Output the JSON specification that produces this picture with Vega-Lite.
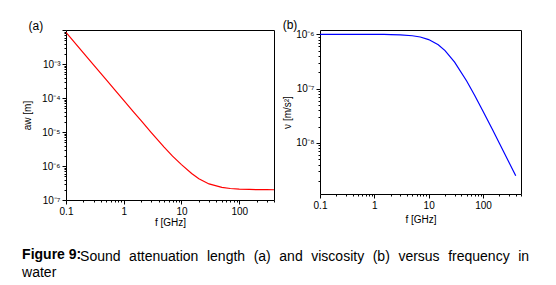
{
  "$schema": "https://vega.github.io/schema/vega-lite/v6.json",
  "background": "white",
  "padding": {"left": 22, "top": 18, "right": 5, "bottom": 5},
  "config": {
    "font": "Liberation Sans",
    "view": {"stroke": "black", "strokeWidth": 1},
    "axis": {
      "grid": false,
      "domain": false,
      "tickColor": "black",
      "labelColor": "black",
      "titleColor": "black",
      "labelFont": "Liberation Sans",
      "titleFont": "Liberation Sans",
      "labelFontSize": 10,
      "titleFontSize": 10,
      "titleFontWeight": "normal",
      "labelPadding": 2,
      "labelOverlap": false,
      "labelFlush": false
    },
    "title": {"font": "Liberation Sans", "color": "black"}
  },
  "datasets": {
    "atten": [
      {"f": 0.1, "a": 8.5e-3},
      {"f": 0.15, "a": 3.778e-3},
      {"f": 0.2, "a": 2.125e-3},
      {"f": 0.3, "a": 9.444e-4},
      {"f": 0.5, "a": 3.4e-4},
      {"f": 0.7, "a": 1.735e-4},
      {"f": 1, "a": 8.52e-5},
      {"f": 1.5, "a": 3.78e-5},
      {"f": 2, "a": 2.145e-5},
      {"f": 3, "a": 9.64e-6},
      {"f": 5, "a": 3.6e-6},
      {"f": 7, "a": 1.95e-6},
      {"f": 10, "a": 1.1e-6},
      {"f": 15, "a": 6.0e-7},
      {"f": 20, "a": 4.2e-7},
      {"f": 30, "a": 2.97e-7},
      {"f": 50, "a": 2.36e-7},
      {"f": 70, "a": 2.18e-7},
      {"f": 100, "a": 2.09e-7},
      {"f": 150, "a": 2.04e-7},
      {"f": 200, "a": 2.02e-7},
      {"f": 300, "a": 2.01e-7},
      {"f": 400, "a": 2.005e-7}
    ],
    "visc": [
      {"f": 0.1, "nu": 1.0e-6},
      {"f": 0.2, "nu": 9.999e-7},
      {"f": 0.5, "nu": 9.994e-7},
      {"f": 1, "nu": 9.975e-7},
      {"f": 1.5, "nu": 9.944e-7},
      {"f": 2, "nu": 9.901e-7},
      {"f": 3, "nu": 9.78e-7},
      {"f": 5, "nu": 9.412e-7},
      {"f": 7, "nu": 8.909e-7},
      {"f": 10, "nu": 8.0e-7},
      {"f": 15, "nu": 6.4e-7},
      {"f": 20, "nu": 5.0e-7},
      {"f": 30, "nu": 3.077e-7},
      {"f": 50, "nu": 1.379e-7},
      {"f": 70, "nu": 7.547e-8},
      {"f": 100, "nu": 3.846e-8},
      {"f": 150, "nu": 1.747e-8},
      {"f": 200, "nu": 9.901e-9},
      {"f": 300, "nu": 4.425e-9},
      {"f": 400, "nu": 2.494e-9}
    ]
  },
  "title": {
    "text": "water",
    "orient": "bottom",
    "anchor": "start",
    "frame": "bounds",
    "fontSize": 14,
    "fontWeight": "normal",
    "offset": 2
  },
  "vconcat": [
    {
      "title": {
        "text": "Sound \u2004attenuation \u2004length \u2004(a) \u2004and \u2004viscosity \u2004(b) \u2004versus \u2004frequency \u2004in",
        "orient": "bottom",
        "anchor": "start",
        "frame": "bounds",
        "fontSize": 14,
        "fontWeight": "normal",
        "offset": 0,
        "dx": 58,
        "dy": -12
      },
      "vconcat": [
        {
          "title": {
            "text": "Figure 9:",
            "orient": "bottom",
            "anchor": "start",
            "frame": "bounds",
            "fontSize": 14,
            "fontWeight": "bold",
            "offset": 20
          },
          "bounds": "flush",
          "spacing": 46,
          "hconcat": [
            {
              "width": 208,
              "height": 170,
              "title": {"text": "(a)", "anchor": "start", "frame": "bounds", "fontSize": 12, "fontWeight": "normal", "offset": -8, "dx": 6},
              "data": {"name": "atten"},
              "mark": {"type": "line", "color": "#ff0000", "strokeWidth": 1.2, "clip": true},
              "encoding": {
                "x": {
                  "field": "f", "type": "quantitative",
                  "scale": {"type": "log", "domain": [0.1, 400], "nice": false},
                  "axis": {
                    "title": "f [GHz]",
                    "titlePadding": 1,
                    "values": [0.1,0.2,0.3,0.4,0.5,0.6,0.7,0.8,0.9,1,2,3,4,5,6,7,8,9,10,20,30,40,50,60,70,80,90,100,200,300,400],
                    "labelExpr": "indexof([0.1,1,10,100], datum.value) >= 0 ? format(datum.value, '~g') : ''",
                    "tickSize": {"condition": {"test": "indexof([0.1,1,10,100], datum.value) >= 0", "value": 4}, "value": 2}
                  }
                },
                "y": {
                  "field": "a", "type": "quantitative",
                  "scale": {"type": "log", "domain": [1e-7, 1e-2], "nice": false},
                  "axis": {
                    "title": "aw [m]",
                    "titlePadding": 9,
                    "values": [1e-7,2e-7,3e-7,4e-7,5e-7,6e-7,7e-7,8e-7,9e-7,1e-6,2e-6,3e-6,4e-6,5e-6,6e-6,7e-6,8e-6,9e-6,1e-5,2e-5,3e-5,4e-5,5e-5,6e-5,7e-5,8e-5,9e-5,1e-4,2e-4,3e-4,4e-4,5e-4,6e-4,7e-4,8e-4,9e-4,1e-3,2e-3,3e-3,4e-3,5e-3,6e-3,7e-3,8e-3,9e-3,1e-2],
                    "labelExpr": "datum.value == 1e-7 ? '10\u207b\u2077' : datum.value == 1e-6 ? '10\u207b\u2076' : datum.value == 1e-5 ? '10\u207b\u2075' : datum.value == 1e-4 ? '10\u207b\u2074' : datum.value == 1e-3 ? '10\u207b\u00b3' : ''",
                    "tickSize": {"condition": {"test": "indexof([1e-7,1e-6,1e-5,1e-4,1e-3,1e-2], datum.value) >= 0", "value": 4}, "value": 2}
                  }
                }
              }
            },
            {
              "width": 201,
              "height": 164,
              "title": {"text": "(b)", "anchor": "start", "frame": "bounds", "fontSize": 12, "fontWeight": "normal", "offset": -3},
              "data": {"name": "visc"},
              "mark": {"type": "line", "color": "#0000ff", "strokeWidth": 1.2, "clip": true},
              "encoding": {
                "x": {
                  "field": "f", "type": "quantitative",
                  "scale": {"type": "log", "domain": [0.1, 500], "nice": false},
                  "axis": {
                    "title": "f [GHz]",
                    "titlePadding": 4,
                    "values": [0.1,0.2,0.3,0.4,0.5,0.6,0.7,0.8,0.9,1,2,3,4,5,6,7,8,9,10,20,30,40,50,60,70,80,90,100,200,300,400,500],
                    "labelExpr": "indexof([0.1,1,10,100], datum.value) >= 0 ? format(datum.value, '~g') : ''",
                    "tickSize": {"condition": {"test": "indexof([0.1,1,10,100], datum.value) >= 0", "value": 4}, "value": 2}
                  }
                },
                "y": {
                  "field": "nu", "type": "quantitative",
                  "scale": {"type": "log", "domain": [1.15e-9, 1.2e-6], "nice": false},
                  "axis": {
                    "title": "\u03bd [m/s\u00b2]",
                    "titlePadding": 3,
                    "values": [2e-9,3e-9,4e-9,5e-9,6e-9,7e-9,8e-9,9e-9,1e-8,2e-8,3e-8,4e-8,5e-8,6e-8,7e-8,8e-8,9e-8,1e-7,2e-7,3e-7,4e-7,5e-7,6e-7,7e-7,8e-7,9e-7,1e-6],
                    "labelExpr": "datum.value == 1e-8 ? '10\u207b\u2078' : datum.value == 1e-7 ? '10\u207b\u2077' : datum.value == 1e-6 ? '10\u207b\u2076' : ''",
                    "tickSize": {"condition": {"test": "indexof([1e-8,1e-7,1e-6], datum.value) >= 0", "value": 4}, "value": 2}
                  }
                }
              }
            }
          ]
        }
      ]
    }
  ]
}
